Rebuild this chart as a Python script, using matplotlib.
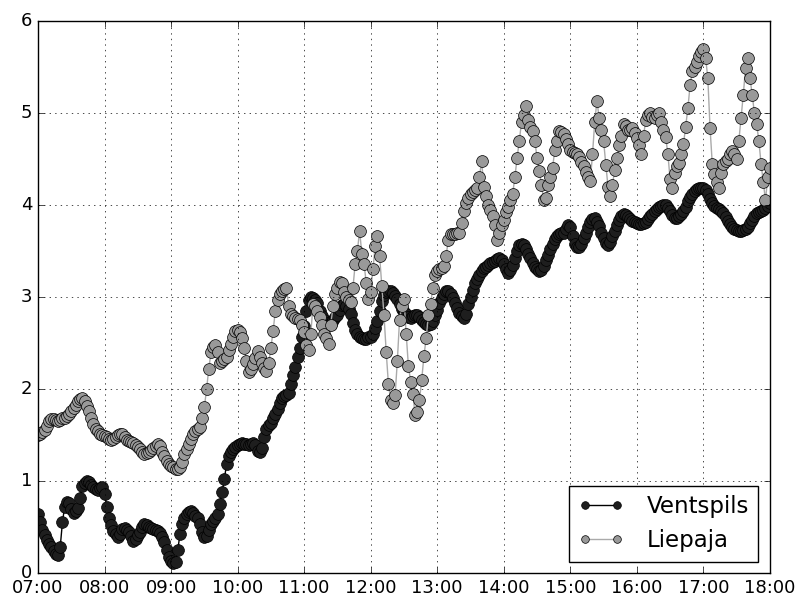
import matplotlib
matplotlib.use('Agg')
import matplotlib.pyplot as plt
import matplotlib.dates as mdates
import pandas as pd

# Время измерений: с 07:00 до 18:00, шаг 2 минуты
times = pd.date_range('2015-05-01 07:00', '2015-05-01 18:00', freq='2min').to_pydatetime()

# Данные для Вентспилса (одна строка - полчаса, 15 значений)
ventspils = [
    0.64, 0.55, 0.47, 0.41, 0.36, 0.32, 0.28, 0.24, 0.21, 0.20, 0.28, 0.55, 0.72, 0.77, 0.76,
    0.70, 0.65, 0.67, 0.71, 0.82, 0.95, 0.98, 1.00, 0.99, 0.96, 0.93, 0.91, 0.90, 0.92, 0.93,
    0.86, 0.72, 0.60, 0.52, 0.46, 0.42, 0.39, 0.42, 0.48, 0.49, 0.47, 0.45, 0.40, 0.35, 0.37,
    0.41, 0.45, 0.50, 0.53, 0.52, 0.50, 0.49, 0.48, 0.47, 0.46, 0.43, 0.39, 0.34, 0.25, 0.17,
    0.13, 0.11, 0.12, 0.25, 0.42, 0.53, 0.60, 0.64, 0.66, 0.67, 0.65, 0.62, 0.60, 0.53, 0.45,
    0.39, 0.40, 0.47, 0.53, 0.57, 0.60, 0.64, 0.75, 0.88, 1.02, 1.18, 1.27, 1.31, 1.35, 1.37,
    1.39, 1.40, 1.41, 1.40, 1.40, 1.39, 1.40, 1.41, 1.39, 1.33, 1.31, 1.36, 1.48, 1.57, 1.61,
    1.63, 1.68, 1.73, 1.78, 1.85, 1.90, 1.92, 1.94, 1.96, 2.05, 2.15, 2.24, 2.35, 2.45, 2.56,
    2.68, 2.85, 2.97, 3.00, 2.99, 2.97, 2.93, 2.85, 2.79, 2.75, 2.72, 2.70, 2.71, 2.75, 2.78,
    2.80, 2.86, 2.91, 2.92, 2.90, 2.87, 2.82, 2.72, 2.64, 2.60, 2.57, 2.55, 2.54, 2.54, 2.56,
    2.57, 2.60, 2.66, 2.74, 2.85, 2.96, 3.02, 3.05, 3.06, 3.06, 3.04, 3.01, 2.98, 2.92, 2.87,
    2.84, 2.81, 2.78, 2.77, 2.79, 2.80, 2.80, 2.78, 2.75, 2.73, 2.71, 2.70, 2.71, 2.74, 2.80,
    2.86, 2.93, 2.99, 3.03, 3.06, 3.06, 3.03, 2.99, 2.94, 2.88, 2.83, 2.79, 2.77, 2.82, 2.92,
    3.00, 3.08, 3.15, 3.20, 3.24, 3.28, 3.31, 3.33, 3.35, 3.37, 3.38, 3.39, 3.41, 3.42, 3.40,
    3.36, 3.30, 3.26, 3.29, 3.35, 3.42, 3.50, 3.56, 3.58, 3.56, 3.52, 3.47, 3.42, 3.37, 3.33,
    3.30, 3.28, 3.29, 3.34, 3.40, 3.46, 3.52, 3.58, 3.63, 3.66, 3.68, 3.70, 3.70, 3.74, 3.78,
    3.76, 3.66, 3.58, 3.54, 3.54, 3.58, 3.64, 3.70, 3.76, 3.81, 3.85, 3.86, 3.82, 3.77, 3.70,
    3.64, 3.59, 3.57, 3.60, 3.66, 3.72, 3.78, 3.84, 3.88, 3.90, 3.89, 3.87, 3.85, 3.83, 3.81,
    3.80, 3.79, 3.79, 3.80, 3.82, 3.85, 3.88, 3.90, 3.93, 3.96, 3.98, 3.99, 4.00, 4.00, 3.97,
    3.93, 3.89, 3.86, 3.86, 3.88, 3.90, 3.93, 3.98, 4.04, 4.09, 4.12, 4.15, 4.17, 4.19, 4.19,
    4.18, 4.16, 4.12, 4.06, 4.02, 3.99, 3.97, 3.96, 3.94, 3.91, 3.87, 3.83, 3.79, 3.76, 3.74,
    3.73, 3.72, 3.72, 3.73, 3.74, 3.76, 3.80, 3.84, 3.88, 3.91, 3.92, 3.93, 3.95, 3.97, 3.99,
    4.02,
]

# Данные для Лиепаи
liepaja = [
    1.50, 1.51, 1.53, 1.55, 1.60, 1.65, 1.67, 1.67, 1.66, 1.65, 1.66, 1.68, 1.69, 1.71, 1.73,
    1.76, 1.79, 1.83, 1.87, 1.89, 1.90, 1.87, 1.82, 1.76, 1.69, 1.62, 1.57, 1.54, 1.51, 1.50,
    1.49, 1.48, 1.46, 1.45, 1.46, 1.48, 1.50, 1.51, 1.51, 1.48, 1.45, 1.43, 1.42, 1.41, 1.39,
    1.37, 1.35, 1.32, 1.29, 1.30, 1.32, 1.34, 1.36, 1.38, 1.40, 1.38, 1.32, 1.27, 1.22, 1.18,
    1.16, 1.15, 1.13, 1.13, 1.15, 1.21, 1.29, 1.35, 1.40, 1.46, 1.51, 1.54, 1.56, 1.59, 1.68,
    1.80, 2.00, 2.22, 2.40, 2.46, 2.48, 2.40, 2.28, 2.30, 2.33, 2.35, 2.42, 2.49, 2.56, 2.63,
    2.64, 2.62, 2.55, 2.45, 2.30, 2.18, 2.22, 2.27, 2.34, 2.41, 2.35, 2.28, 2.23, 2.20, 2.28,
    2.45, 2.63, 2.85, 2.97, 3.03, 3.06, 3.09, 3.10, 2.90, 2.82, 2.79, 2.77, 2.76, 2.75, 2.70,
    2.62, 2.48, 2.42, 2.60, 2.92, 2.90, 2.85, 2.78, 2.70, 2.60, 2.55, 2.49, 2.70, 2.90, 3.03,
    3.10, 3.16, 3.15, 3.05, 3.00, 2.97, 2.95, 3.10, 3.36, 3.50, 3.72, 3.47, 3.36, 3.15, 2.98,
    3.05, 3.30, 3.55, 3.66, 3.45, 3.12, 2.80, 2.40, 2.05, 1.88, 1.85, 1.93, 2.30, 2.75, 2.90,
    2.98, 2.60, 2.25, 2.08, 1.95, 1.72, 1.75, 1.88, 2.10, 2.36, 2.55, 2.80, 2.92, 3.10, 3.24,
    3.28, 3.30, 3.32, 3.34, 3.45, 3.62, 3.68, 3.68, 3.69, 3.70, 3.70, 3.80, 3.93, 4.02, 4.08,
    4.12, 4.14, 4.16, 4.19, 4.30, 4.48, 4.20, 4.10, 4.00, 3.95, 3.88, 3.78, 3.62, 3.70, 3.78,
    3.84, 3.92, 3.98, 4.05, 4.12, 4.30, 4.51, 4.70, 4.90, 4.98, 5.08, 4.92, 4.85, 4.80, 4.70,
    4.51, 4.37, 4.22, 4.05, 4.08, 4.22, 4.30, 4.40, 4.60, 4.70, 4.80, 4.79, 4.77, 4.72, 4.66,
    4.60, 4.58, 4.57, 4.55, 4.52, 4.47, 4.42, 4.36, 4.30, 4.26, 4.55, 4.90, 5.13, 4.95, 4.82,
    4.70, 4.44, 4.20, 4.10, 4.22, 4.38, 4.51, 4.65, 4.75, 4.88, 4.86, 4.82, 4.82, 4.84, 4.78,
    4.73, 4.65, 4.55, 4.75, 4.92, 4.98, 5.00, 4.96, 4.95, 4.98, 5.00, 4.90, 4.82, 4.74, 4.55,
    4.28, 4.19, 4.35, 4.42, 4.46, 4.55, 4.66, 4.85, 5.05, 5.30, 5.46, 5.50, 5.55, 5.62, 5.66,
    5.70, 5.60, 5.38, 4.84, 4.45, 4.34, 4.25, 4.19, 4.35, 4.45, 4.48, 4.50, 4.55, 4.59, 4.55,
    4.50, 4.70, 4.95, 5.20, 5.49, 5.60, 5.38, 5.20, 5.00, 4.88, 4.70, 4.45, 4.25, 4.05, 4.30,
    4.40,
]

plt.style.use('classic')

# Создание фигуры нужного размера
fig, ax = plt.subplots(figsize=(8.02, 5.96), dpi=100)
fig.patch.set_facecolor('white')
fig.subplots_adjust(left=0.0474, right=0.960, bottom=0.0386, top=0.9648)

# Линии с маркерами для обоих городов
ax.plot(times, ventspils, '-o', color='black', mfc='#1e1e1e', mec='black',
        ms=8.5, lw=1, label='Ventspils')
ax.plot(times, liepaja, '-o', color='#aaaaaa', mfc='#999999', mec='black',
        ms=8.5, lw=1, label='Liepaja')

# Оси и подписи времени
ax.set_xlim(times[0], times[-1])
ax.set_ylim(0, 6)
ax.xaxis.set_major_locator(mdates.HourLocator())
ax.xaxis.set_major_formatter(mdates.DateFormatter('%H:%M'))
ax.tick_params(labelsize=13)
ax.grid(True)

# Легенда в правом нижнем углу
ax.legend(loc='lower right', fontsize=16.5, numpoints=2, handlelength=2.0,
          handletextpad=1.0, markerscale=0.65)

# Сохранение графика в файл
fig.savefig('out.png', dpi=100, facecolor='white')
